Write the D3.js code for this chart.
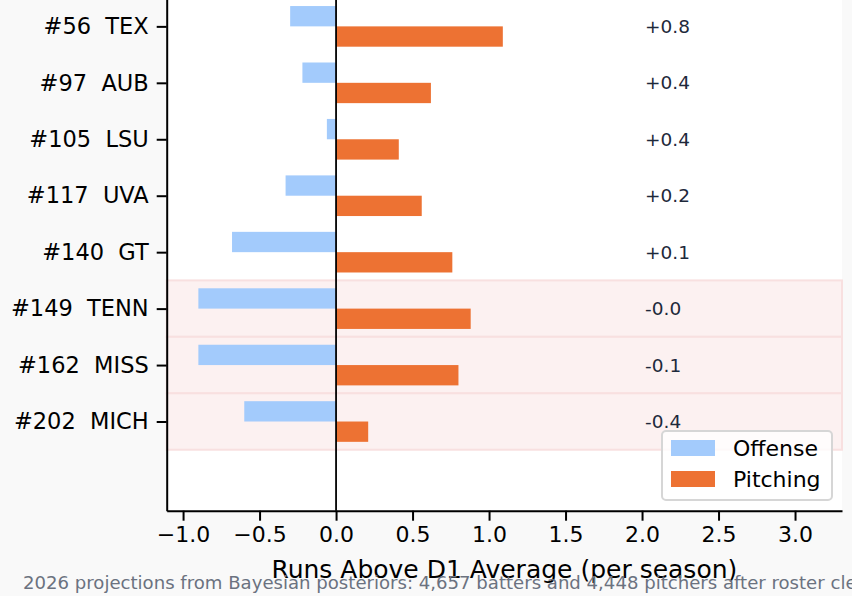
<!DOCTYPE html>
<html>
<head>
<meta charset="utf-8">
<script src="https://cdn.jsdelivr.net/npm/d3@7"></script>
<style>
  body { margin: 0; background: #f9f9f9; }
  svg { display: block; font-family: "DejaVu Sans", sans-serif; }
</style>
</head>
<body>
<div id="chart"></div>
<script>
// Data
const ranks = [56, 97, 105, 117, 140, 149, 162, 202];
const teams = ["TEX", "AUB", "LSU", "UVA", "GT", "TENN", "MISS", "MICH"];
const offense = [-0.30, -0.22, -0.06, -0.33, -0.68, -0.90, -0.90, -0.60];
const pitching = [1.09, 0.62, 0.41, 0.56, 0.76, 0.88, 0.80, 0.21];
const netLabels = ["+0.8", "+0.4", "+0.4", "+0.2", "+0.1", "-0.0", "-0.1", "-0.4"];
const highlighted = ["TENN", "MISS", "MICH"];
const xTicks = [-1.0, -0.5, 0.0, 0.5, 1.0, 1.5, 2.0, 2.5, 3.0];
const seriesNames = ["Offense", "Pitching"];

const width = 852, height = 596;
const colors = { Offense: "#a3cbfc", Pitching: "#ed7233" };
const barH = 0.36;   // bar thickness in row units

const svg = d3.select("#chart")
    .append("svg")
    .attr("width", width)
    .attr("height", height);

svg.append("rect")
    .attr("width", width)
    .attr("height", height)
    .attr("fill", "#f9f9f9");

// Scales (axes top lies above the visible area)
const x = d3.scaleLinear()
    .domain([-1.107, 3.307])
    .range([166.7, 842]);
const y = d3.scaleLinear()
    .domain([-0.6, 8.58])
    .range([-7.5, 510.7]);

const [x0, x1] = x.range();
const [y0, y1] = y.range();

// Axes background
svg.append("rect")
    .attr("x", x0).attr("y", y0)
    .attr("width", x1 - x0).attr("height", y1 - y0)
    .attr("fill", "#ffffff");

// Highlight bands for selected teams
svg.selectAll(".band")
    .data(teams.map((t, i) => ({ t, i })).filter(d => highlighted.includes(d.t)))
    .enter()
    .append("rect")
    .attr("class", "band")
    .attr("x", x0)
    .attr("y", d => y(d.i - 0.5))
    .attr("width", x1 - x0)
    .attr("height", d => y(d.i + 0.5) - y(d.i - 0.5))
    .attr("fill", "#fcf1f1")
    .attr("stroke", "#f8e0e0")
    .attr("stroke-width", 2);

// Offense bars (upper half of each row)
svg.selectAll(".off")
    .data(offense)
    .enter()
    .append("rect")
    .attr("class", "off")
    .attr("x", d => x(Math.min(0, d)))
    .attr("y", (d, i) => y(i - barH))
    .attr("width", d => Math.abs(x(d) - x(0)))
    .attr("height", y(barH) - y(0))
    .attr("fill", colors.Offense);

// Pitching bars (lower half of each row)
svg.selectAll(".pit")
    .data(pitching)
    .enter()
    .append("rect")
    .attr("class", "pit")
    .attr("x", d => x(Math.min(0, d)))
    .attr("y", (d, i) => y(i))
    .attr("width", d => Math.abs(x(d) - x(0)))
    .attr("height", y(barH) - y(0))
    .attr("fill", colors.Pitching);

// Zero line
svg.append("line")
    .attr("x1", x(0)).attr("x2", x(0))
    .attr("y1", y0).attr("y2", y1)
    .attr("stroke", "#000")
    .attr("stroke-width", 1.8);

// Net value labels
svg.selectAll(".net")
    .data(netLabels)
    .enter()
    .append("text")
    .attr("class", "net")
    .attr("x", x(2.02))
    .attr("y", (d, i) => y(i))
    .attr("dy", "0.35em")
    .attr("font-size", 18.5)
    .attr("fill", "#1e293b")
    .text(d => d);

// Y axis
const yAxis = svg.append("g")
    .attr("transform", `translate(${x0},0)`)
    .call(d3.axisLeft(y)
        .tickValues(d3.range(teams.length))
        .tickFormat(i => `#${ranks[i]}  ${teams[i]}`)
        .tickSize(10)
        .tickSizeOuter(0)
        .tickPadding(8));
yAxis.selectAll("text")
    .style("white-space", "pre")
    .attr("font-size", 22.5)
    .attr("fill", "#000");

// X axis
const xAxis = svg.append("g")
    .attr("transform", `translate(0,${y1})`)
    .call(d3.axisBottom(x)
        .tickValues(xTicks)
        .tickFormat(d3.format(".1f"))
        .tickSize(10)
        .tickSizeOuter(0)
        .tickPadding(6));
xAxis.selectAll("text")
    .attr("font-size", 22)
    .attr("fill", "#000");

[yAxis, xAxis].forEach(g => {
    g.attr("font-family", null);
    g.select(".domain").attr("stroke-width", 2);
    g.selectAll(".tick line").attr("stroke-width", 2);
});

// X axis title
svg.append("text")
    .attr("x", (x0 + x1) / 2)
    .attr("y", 578)
    .attr("text-anchor", "middle")
    .attr("font-size", 25)
    .attr("fill", "#000")
    .text("Runs Above D1 Average (per season)");

// Legend
const legend = svg.append("g")
    .attr("transform", "translate(662,431)");
legend.append("rect")
    .attr("width", 170).attr("height", 69)
    .attr("rx", 4)
    .attr("fill", "#fff")
    .attr("fill-opacity", 0.8)
    .attr("stroke", "#d6d6d6")
    .attr("stroke-width", 2);
seriesNames.forEach((name, i) => {
    legend.append("rect")
        .attr("x", 9).attr("y", 9 + i * 31)
        .attr("width", 44).attr("height", 16)
        .attr("fill", colors[name]);
    legend.append("text")
        .attr("x", 71).attr("y", 17 + i * 31)
        .attr("dy", "0.35em")
        .attr("font-size", 22)
        .attr("fill", "#000")
        .text(name);
});

// Footnote
svg.append("text")
    .attr("x", 23)
    .attr("y", 589)
    .attr("font-size", 18.1)
    .attr("fill", "#6b7280")
    .text("2026 projections from Bayesian posteriors: 4,657 batters and 4,448 pitchers after roster cleaning");
</script>
</body>
</html>
